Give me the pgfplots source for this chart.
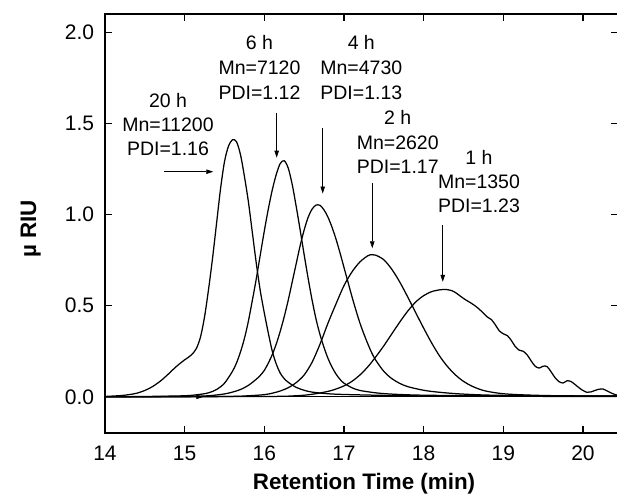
\documentclass[border=0pt]{standalone}
\usepackage{fontspec}
\setmainfont{Liberation Sans}
\usepackage{pgfplots}
\pgfplotsset{compat=1.18}
\usetikzlibrary{arrows.meta}
\begin{document}
\begin{tikzpicture}
\useasboundingbox (0,0) rectangle (617pt,501pt);
\begin{axis}[
  at={(105pt,67.7pt)}, anchor=south west,
  scale only axis, width=513pt, height=419.3pt,
  xmin=14, xmax=20.44, ymin=-0.2, ymax=2.1,
  xtick={14,...,20}, ytick={0,0.5,1,1.5,2},
  xticklabel={\fontsize{21}{24}\selectfont\pgfmathprintnumber[assume math mode=true]{\tick}},
  yticklabel={\fontsize{21}{24}\selectfont\pgfmathprintnumber[assume math mode=true,fixed,fixed zerofill,precision=1]{\tick}},
  axis line style={line width=1.7pt},
  major tick style={line width=1.3pt, black},
  major tick length=7pt,
  tick align=inside,
  xticklabel style={yshift=-9pt},
  yticklabel style={xshift=-7.4pt},
  gpc/.style={black, solid, line width=1.25pt, mark=none, smooth},
]
% baseline
\addplot[gpc] coordinates {(14,0) (20.44,0)};
% 20 h
\addplot[gpc] table {
14.0 0.002
14.2 0.007
14.3 0.012
14.4 0.02
14.5 0.035
14.6 0.057
14.7 0.088
14.75 0.107
14.8 0.127
14.85 0.148
14.9 0.168
14.95 0.186
15.0 0.203
15.05 0.218
15.1 0.237
15.15 0.268
15.2 0.33
15.25 0.44
15.3 0.59
15.35 0.76
15.4 0.95
15.45 1.14
15.5 1.29
15.55 1.375
15.6 1.41
15.65 1.40
15.7 1.33
15.75 1.21
15.8 1.07
15.85 0.90
15.9 0.73
15.95 0.58
16.0 0.46
16.05 0.35
16.1 0.25
16.15 0.18
16.2 0.13
16.25 0.10
16.3 0.08
16.4 0.052
16.5 0.036
16.6 0.026
16.8 0.017
17.0 0.013
17.5 0.008
18.0 0.005
19.0 0.003
20.44 0.002
};
% 6 h
\addplot[gpc] table {
14.0 0.0
14.5 0.002
15.0 0.006
15.2 0.014
15.3 0.022
15.4 0.04
15.5 0.075
15.6 0.14
15.65 0.185
15.7 0.245
15.75 0.32
15.8 0.415
15.85 0.53
15.9 0.65
15.95 0.78
16.0 0.91
16.05 1.03
16.1 1.135
16.15 1.22
16.2 1.28
16.25 1.295
16.3 1.255
16.35 1.165
16.4 1.045
16.45 0.915
16.5 0.78
16.55 0.65
16.6 0.53
16.65 0.425
16.7 0.34
16.75 0.27
16.8 0.21
16.85 0.163
16.9 0.125
16.95 0.096
17.0 0.075
17.1 0.05
17.2 0.035
17.4 0.022
17.6 0.015
18.0 0.009
19.0 0.005
20.44 0.003
};
% 4 h
\addplot[gpc] table {
14.0 0.0
15.0 0.002
15.3 0.006
15.5 0.016
15.6 0.026
15.7 0.04
15.8 0.063
15.9 0.097
15.95 0.118
16.0 0.145
16.05 0.185
16.1 0.232
16.15 0.29
16.2 0.36
16.25 0.44
16.3 0.53
16.35 0.63
16.4 0.73
16.45 0.83
16.5 0.915
16.55 0.985
16.6 1.03
16.65 1.052
16.7 1.05
16.75 1.025
16.8 0.985
16.85 0.93
16.9 0.865
16.95 0.79
17.0 0.71
17.05 0.63
17.1 0.55
17.15 0.475
17.2 0.405
17.25 0.345
17.3 0.29
17.35 0.24
17.4 0.2
17.5 0.14
17.6 0.1
17.7 0.074
17.8 0.056
18.0 0.036
18.2 0.025
18.5 0.015
19.0 0.008
20.44 0.004
};
% 2 h
\addplot[gpc] table {
14.0 0.0
15.5 0.002
15.8 0.006
16.0 0.012
16.1 0.02
16.2 0.032
16.3 0.05
16.4 0.078
16.5 0.12
16.6 0.19
16.7 0.29
16.8 0.405
16.9 0.51
17.0 0.61
17.1 0.685
17.2 0.74
17.3 0.774
17.35 0.78
17.4 0.777
17.5 0.752
17.6 0.70
17.7 0.63
17.8 0.548
17.9 0.462
18.0 0.377
18.1 0.296
18.2 0.224
18.3 0.166
18.4 0.12
18.5 0.085
18.6 0.06
18.7 0.042
18.8 0.03
19.0 0.017
19.3 0.01
19.7 0.006
20.44 0.004
};
% 1 h
\addplot[gpc] table {
14.0 0.0
16.0 0.002
16.4 0.006
16.6 0.014
16.8 0.03
16.9 0.043
17.0 0.06
17.1 0.085
17.2 0.12
17.3 0.165
17.4 0.22
17.5 0.28
17.6 0.345
17.7 0.41
17.8 0.47
17.9 0.52
18.0 0.555
18.1 0.577
18.2 0.587
18.25 0.589
18.3 0.588
18.35 0.583
18.4 0.572
18.45 0.556
18.5 0.54
18.55 0.526
18.6 0.513
18.65 0.498
18.7 0.48
18.75 0.459
18.8 0.438
18.85 0.424
18.9 0.395
18.95 0.362
19.0 0.346
19.05 0.336
19.1 0.31
19.15 0.276
19.2 0.256
19.25 0.25
19.3 0.23
19.35 0.197
19.4 0.168
19.45 0.158
19.5 0.168
19.55 0.166
19.6 0.137
19.65 0.105
19.7 0.083
19.75 0.076
19.8 0.088
19.85 0.084
19.9 0.068
19.95 0.05
20.0 0.035
20.05 0.025
20.1 0.027
20.15 0.035
20.2 0.042
20.25 0.043
20.3 0.033
20.35 0.022
20.4 0.013
20.44 0.008
};
% arrows
\begin{scope}[line width=0.7pt, -{Triangle[length=7pt,width=4.5pt]}]
\draw (axis cs:14.74,1.235) -- (axis cs:15.359,1.235);
\draw (axis cs:16.155,1.555) -- (axis cs:16.155,1.312);
\draw (axis cs:16.733,1.473) -- (axis cs:16.733,1.115);
\draw (axis cs:17.355,1.171) -- (axis cs:17.355,0.815);
\draw (axis cs:18.240,0.942) -- (axis cs:18.240,0.631);
\draw (axis cs:14.95,0) -- (axis cs:15.234,0);
\end{scope}
\end{axis}
% annotations
\begin{scope}[every node/.style={anchor=base, inner sep=0pt, font=\fontsize{19.5}{24}\selectfont}]
\node at (168pt,393.5pt) {20 h};
\node at (168pt,369.5pt) {Mn=11200};
\node at (168pt,345.5pt) {PDI=1.16};
\node at (259.5pt,451pt) {6 h};
\node at (259.5pt,426.5pt) {Mn=7120};
\node at (259.5pt,401pt) {PDI=1.12};
\node at (361.3pt,451pt) {4 h};
\node at (361.3pt,426.5pt) {Mn=4730};
\node at (361.3pt,401pt) {PDI=1.13};
\node at (397.7pt,376pt) {2 h};
\node at (397.7pt,351pt) {Mn=2620};
\node at (397.7pt,327pt) {PDI=1.17};
\node at (479pt,336.7pt) {1 h};
\node at (479pt,312.7pt) {Mn=1350};
\node at (479pt,288.3pt) {PDI=1.23};
\end{scope}
\node[anchor=base, inner sep=0pt, font=\fontsize{22.4}{26}\selectfont\bfseries] at (364pt,12pt) {Retention Time (min)};
\node[anchor=base, rotate=90, inner sep=0pt, font=\fontsize{22.4}{26}\selectfont\bfseries] at (36pt,272pt) {µ RIU};
\end{tikzpicture}
\end{document}
